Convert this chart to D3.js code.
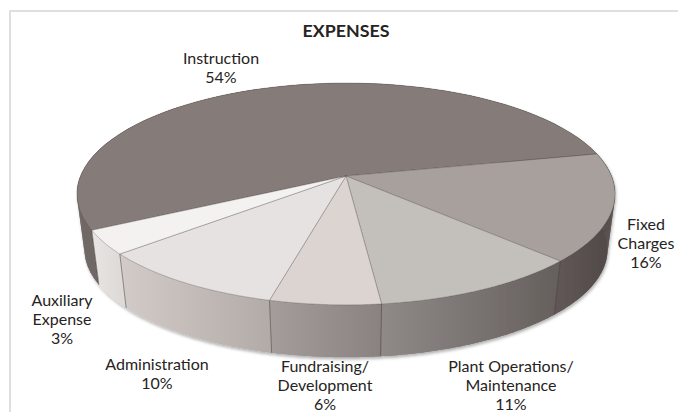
<!DOCTYPE html>
<html>
<head>
<meta charset="utf-8">
<script src="https://cdn.jsdelivr.net/npm/d3@7"></script>
<style>
html, body { margin: 0; padding: 0; background: #fff; overflow: hidden; }
text { font-family: Lato, sans-serif; fill: #262322; }
</style>
</head>
<body>
<script>
// values, the labels show them rounded
const categories = ['Instruction', 'Fixed Charges', 'Plant Operations/ Maintenance', 'Fundraising/ Development', 'Administration', 'Auxiliary Expense']
const percents = [54.3, 15.7, 10.9, 5.7, 9.9, 3.5]
const labelLines = [
    ['Instruction', '54%'],
    ['Fixed', 'Charges', '16%'],
    ['Plant Operations/', 'Maintenance', '11%'],
    ['Fundraising/', 'Development', '6%'],
    ['Administration', '10%'],
    ['Auxiliary', 'Expense', '3%']
]

// colours, one per slice
const topColors = ['#857c7a', '#a8a09c', '#c3bfba', '#dbd4d1', '#e5e2e1', '#f3f2f1']
const wallLeft = ['#6f6765', '#5f5755', '#8f8987', '#a59d9b', '#d2cbc8', '#e8e5e3']
const wallRight = ['#7d7573', '#4f4846', '#655f5d', '#8a8280', '#b3aba8', '#dedad8']

// size of the svg
const width = 678
const height = 412

// where the label sits (centre x, centre y of first line)
const labelPos = [[221, 58], [646, 224], [511, 366], [325, 366], [157, 364], [62, 300]]

// the disc is drawn in perspective, so the apex is above the centre of the ellipse
const apexX = 346
const apexY = 176
const depth = 56
const baseScale = 0.972
const scaleA = 265.5
const scaleB = 108
const tilt = -0.162

// turn a pie angle (clockwise from 12 o'clock) into a point on the top face
const project = (angle, level) => {
    let x = Math.sin(angle)
    let y = -Math.cos(angle)
    let w = 1 + tilt * y
    let s = level === 'base' ? baseScale : 1
    let oy = level === 'base' ? depth : 0
    return [apexX + s * scaleA * x / w, apexY + oy + s * scaleB * y / w]
}

const arcPoints = (d, level) => {
    return d3.range(0, 61).map((i) => project(d.startAngle + (d.endAngle - d.startAngle) * i / 60, level))
}

const colorTop = d3.scaleOrdinal().domain(categories).range(topColors)
const line = d3.line()

// d3.pie does the angles, instruction starts at the back left
const pie = d3.pie().sort(null).value((d, i) => percents[i])
    .startAngle(-117.7 * Math.PI / 180)
    .endAngle((360 - 117.7) * Math.PI / 180)
const slices = pie(categories)

const svg = d3.select('body').append('svg').attr('width', width).attr('height', height).style('display', 'block')
const defs = svg.append('defs')

// soft shadow below the wall
const shadow = defs.append('filter').attr('id', 'wallShadow')
    .attr('x', '-5%').attr('y', '-5%').attr('width', '110%').attr('height', '115%')
shadow.append('feDropShadow').attr('dx', 1).attr('dy', 2).attr('stdDeviation', 1.6)
    .attr('flood-color', '#000').attr('flood-opacity', 0.3)

// frame of the chart, open on the right and at the bottom
svg.append('path')
    .attr('d', line([[10, height], [10, 11], [width, 11]]))
    .attr('fill', 'none')
    .attr('stroke', '#e2dedb')
    .attr('stroke-width', 2)

// a gradient for the wall of every slice
slices.forEach((d, i) => {
    let xs = arcPoints(d, 'top').map((p) => p[0])
    let grad = defs.append('linearGradient').attr('id', 'wall' + i)
        .attr('gradientUnits', 'userSpaceOnUse')
        .attr('x1', d3.min(xs)).attr('x2', d3.max(xs))
        .attr('y1', 0).attr('y2', 0)
    grad.append('stop').attr('offset', 0).attr('stop-color', wallLeft[i])
    grad.append('stop').attr('offset', 1).attr('stop-color', wallRight[i])
})

// walls first, the top face covers whatever is behind
const walls = svg.append('g').attr('filter', 'url(#wallShadow)')
slices.forEach((d, i) => {
    let t = arcPoints(d, 'top')
    let b = arcPoints(d, 'base')
    // small quads fill the straight side edges of the disc
    walls.append('g').selectAll('path')
        .data(d3.range(0, t.length - 1))
        .enter()
        .append('path')
        .attr('d', (k) => line([t[k], t[k + 1], b[k + 1], b[k]]) + 'Z')
        .attr('fill', 'url(#wall' + i + ')')
    // one smooth piece on top, the quads alone leave stripes
    walls.append('path')
        .attr('d', line(t.concat(b.slice().reverse())) + 'Z')
        .attr('fill', 'url(#wall' + i + ')')
})

// edges between the wall pieces, front slices only
svg.append('g').selectAll('path')
    .data(slices.slice(1))
    .enter()
    .append('path')
    .attr('d', (d) => line([project(d.endAngle, 'top'), project(d.endAngle, 'base')]))
    .attr('stroke', '#3f3a38')
    .attr('stroke-opacity', 0.75)
    .attr('stroke-width', 0.7)

// top face
svg.append('g').selectAll('path')
    .data(slices)
    .enter()
    .append('path')
    .attr('d', (d) => line([[apexX, apexY]].concat(arcPoints(d, 'top'))) + 'Z')
    .attr('fill', (d) => colorTop(d.data))
    .attr('stroke', '#4a4543')
    .attr('stroke-opacity', 0.55)
    .attr('stroke-width', 0.6)
    .attr('stroke-linejoin', 'round')

// title
svg.append('text')
    .attr('x', 346)
    .attr('y', 37)
    .attr('text-anchor', 'middle')
    .attr('font-size', '17.8px')
    .attr('font-weight', 700)
    .text('EXPENSES')

// labels, each one a stack of lines
labelLines.forEach((lines, i) => {
    svg.append('g').selectAll('text')
        .data(lines)
        .enter()
        .append('text')
        .attr('x', labelPos[i][0])
        .attr('y', (d, j) => labelPos[i][1] + j * 19)
        .attr('dy', '0.35em')
        .attr('text-anchor', 'middle')
        .attr('font-size', '16px')
        .text((d) => d)
})
</script>
</body>
</html>
